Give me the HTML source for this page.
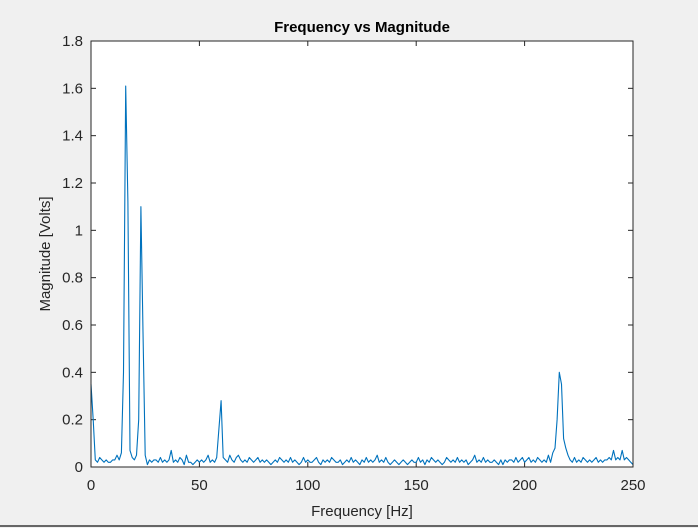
<!DOCTYPE html>
<html><head><meta charset="utf-8"><style>
html,body{margin:0;padding:0;background:#f0f0f0;width:698px;height:528px;overflow:hidden;font-family:"Liberation Sans",Arial,sans-serif}
</style></head><body>
<svg id="chart" width="698" height="528" xmlns="http://www.w3.org/2000/svg">
<rect x="0" y="0" width="698" height="528" fill="#f0f0f0"/>
<rect x="91" y="41" width="542" height="426" fill="#fff"/>
<g id="grid"></g>
<polyline id="series" fill="none" stroke="#0072bd" stroke-width="1.1" stroke-linejoin="round"/>
<rect x="91" y="41" width="542" height="426" fill="none" stroke="#262626" stroke-width="1"/>
<text x="362" y="32" text-anchor="middle" font-size="15" font-weight="bold" fill="#000">Frequency vs Magnitude</text>
<text x="362" y="516" text-anchor="middle" font-size="15" fill="#262626">Frequency [Hz]</text>
<text transform="translate(50,254) rotate(-90)" text-anchor="middle" font-size="15" fill="#262626">Magnitude [Volts]</text>
<line x1="0" y1="526" x2="698" y2="526" stroke="#666" stroke-width="2"/>
</svg>
<script>
const xTicks=[0,50,100,150,200,250];
const yTicks=[0,0.2,0.4,0.6,0.8,1,1.2,1.4,1.6,1.8];
const yTickLabels=["0","0.2","0.4","0.6","0.8","1","1.2","1.4","1.6","1.8"];
const magnitudes=[
0.35,0.2,0.03,0.02,0.04,0.03,0.02,0.03,0.02,0.02,0.03,0.03,0.05,0.03,0.06,0.4,1.61,1.12,0.07,0.04,
0.03,0.05,0.2,1.1,0.57,0.05,0.01,0.03,0.02,0.03,0.03,0.02,0.04,0.02,0.03,0.02,0.03,0.07,0.02,0.03,
0.02,0.04,0.03,0.01,0.05,0.02,0.02,0.01,0.02,0.03,0.02,0.03,0.02,0.03,0.05,0.02,0.03,0.02,0.04,0.16,
0.28,0.04,0.03,0.02,0.05,0.03,0.02,0.04,0.05,0.03,0.02,0.03,0.02,0.04,0.03,0.02,0.03,0.04,0.02,0.03,
0.02,0.03,0.02,0.01,0.02,0.03,0.02,0.04,0.03,0.02,0.03,0.02,0.04,0.02,0.03,0.02,0.01,0.02,0.04,0.02,
0.03,0.02,0.02,0.03,0.04,0.02,0.01,0.03,0.02,0.03,0.02,0.04,0.03,0.02,0.02,0.03,0.01,0.02,0.03,0.02,
0.04,0.02,0.03,0.02,0.01,0.03,0.02,0.04,0.02,0.03,0.02,0.03,0.05,0.02,0.03,0.02,0.04,0.02,0.01,0.02,
0.03,0.02,0.01,0.02,0.03,0.02,0.01,0.02,0.03,0.02,0.02,0.04,0.02,0.03,0.01,0.03,0.02,0.04,0.03,0.02,
0.03,0.02,0.01,0.02,0.04,0.03,0.02,0.03,0.02,0.04,0.02,0.03,0.02,0.03,0.01,0.02,0.03,0.05,0.02,0.03,
0.02,0.04,0.02,0.03,0.02,0.02,0.03,0.02,0.01,0.03,0.01,0.03,0.02,0.03,0.03,0.02,0.04,0.02,0.03,0.04,
0.02,0.03,0.04,0.02,0.03,0.02,0.04,0.03,0.02,0.03,
0.02,0.05,0.02,0.06,0.08,0.2,0.4,0.35,0.12,0.08,0.05,0.03,0.02,0.04,0.02,0.03,0.02,0.04,0.03,0.02,
0.03,0.02,0.03,0.04,0.02,0.03,0.02,0.03,0.03,0.04,0.03,0.07,0.03,0.04,0.03,0.07,0.03,0.04,0.03,0.02,
0.01];
const frequencies=magnitudes.map((_,i)=>i);
const X0=91,X1=633,Y0=467,Y1=41;
const xs=v=>X0+(v-0)/(250-0)*(X1-X0);
const ys=v=>Y0-(v-0)/(1.8-0)*(Y0-Y1);
const svg=document.getElementById('chart');
const g=document.getElementById('grid');
const NS='http://www.w3.org/2000/svg';
function mk(t,a){const e=document.createElementNS(NS,t);for(const k in a)e.setAttribute(k,a[k]);return e;}
xTicks.forEach(v=>{
  const x=xs(v);
  const t1=mk('line',{x1:x,y1:Y0,x2:x,y2:Y0-5,stroke:'#262626'});
  
  
  g.appendChild(t1);
  const t2=mk('line',{x1:x,y1:Y1,x2:x,y2:Y1+5,stroke:'#262626'});
  
  
  g.appendChild(t2);
  const l=mk('text',{x:x,y:Y0+23,'text-anchor':'middle','font-size':'15',fill:'#262626'});
  
  
  l.textContent=String(v);svg.appendChild(l);
});
yTicks.forEach((v,i)=>{
  const y=ys(v);
  const t1=mk('line',{x1:X0,y1:y,x2:X0+5,y2:y,stroke:'#262626'});
  
  
  g.appendChild(t1);
  const t2=mk('line',{x1:X1,y1:y,x2:X1-5,y2:y,stroke:'#262626'});
  
  
  g.appendChild(t2);
  const l=mk('text',{x:X0-8,y:y+5,'text-anchor':'end','font-size':'15',fill:'#262626'});
  
  
  l.textContent=yTickLabels[i];svg.appendChild(l);
});
document.getElementById('series').setAttribute('points',frequencies.map((f,i)=>xs(f).toFixed(1)+','+ys(magnitudes[i]).toFixed(1)).join(' '));
</script>
</body></html>
